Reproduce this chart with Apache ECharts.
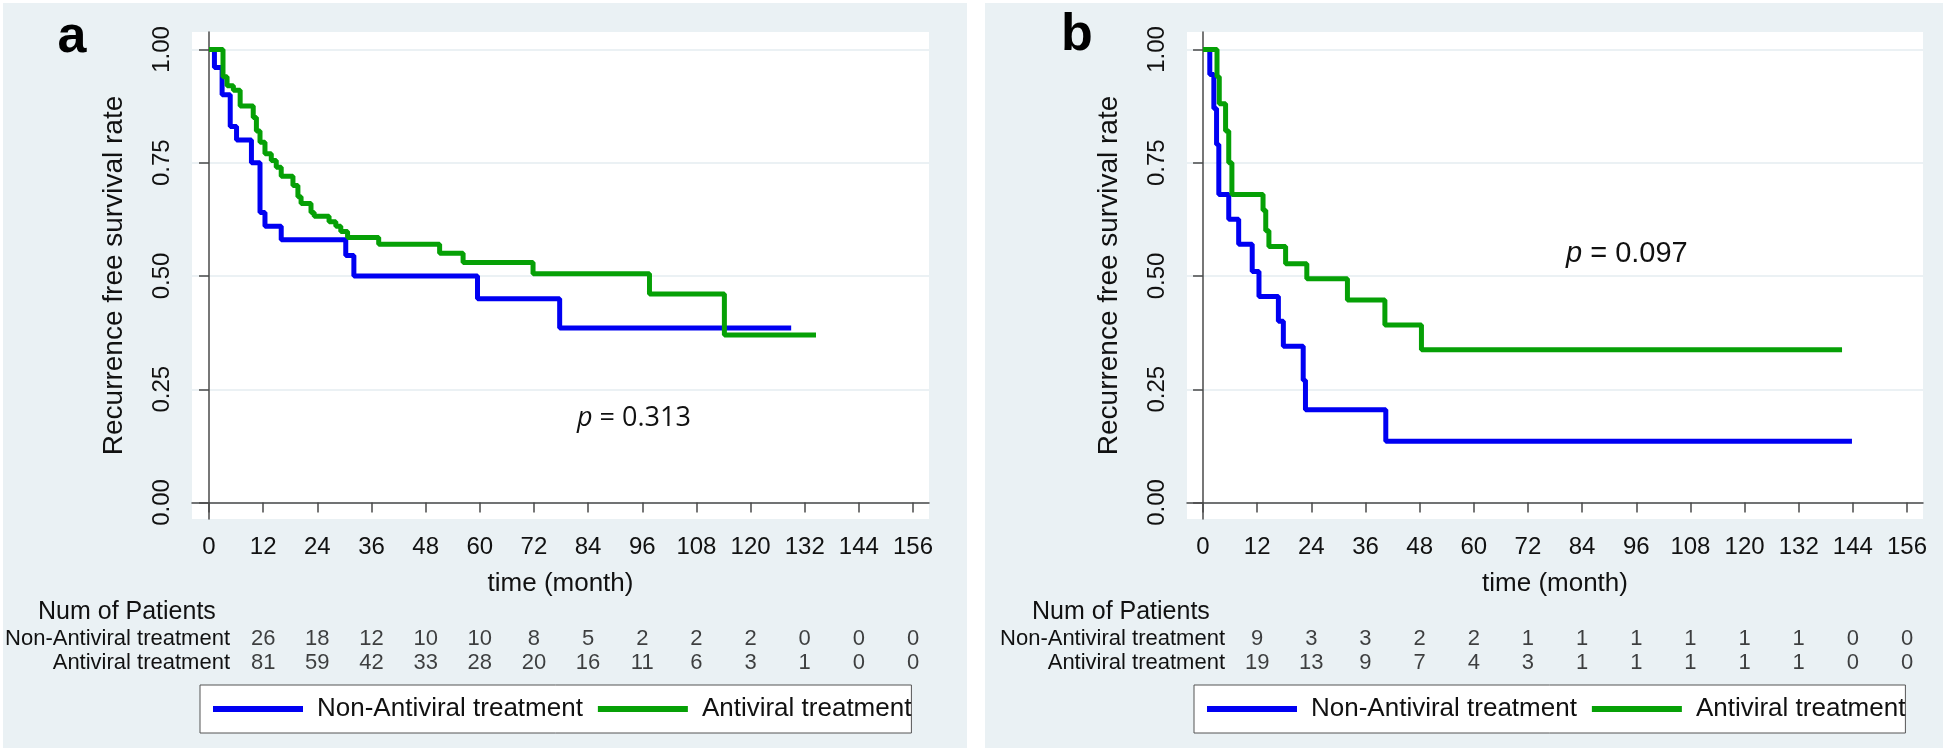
<!DOCTYPE html>
<html>
<head>
<meta charset="utf-8">
<script src="https://cdn.jsdelivr.net/npm/echarts@6/dist/echarts.min.js"></script>
<style>
html, body { margin: 0; padding: 0; background: #fff; }
#chart { width: 1946px; height: 752px; }
</style>
</head>
<body>
<div id="chart"></div>
<script>
// axis ticks
const xTicks = [0, 12, 24, 36, 48, 60, 72, 84, 96, 108, 120, 132, 144, 156];
const yTicks = [0, 0.25, 0.5, 0.75, 1];
const riskTimes = [0, 12, 24, 36, 48, 60, 72, 84, 96, 108, 120, 132, 144];
const groups = ['Non-Antiviral treatment', 'Antiviral treatment'];

// panel a: [month, survival]
const nonAntiviralA = [[0, 1], [1.2, 0.96], [2.9, 0.90], [4.7, 0.83], [6.1, 0.80], [9.4, 0.75],
    [11.3, 0.64], [12.4, 0.61], [16, 0.58], [30.3, 0.545], [32.1, 0.50], [59.5, 0.45],
    [77.7, 0.385], [129, 0.385]];
const antiviralA = [[0, 1], [3.1, 0.94], [4.0, 0.92], [5.4, 0.91], [6.9, 0.875], [9.8, 0.85],
    [10.5, 0.82], [11.3, 0.795], [12.4, 0.77], [13.8, 0.755], [14.9, 0.74], [16, 0.72],
    [18.6, 0.70], [19.7, 0.675], [20.4, 0.66], [22.6, 0.64], [23.3, 0.632], [26.6, 0.62],
    [28.1, 0.61], [29.2, 0.598], [30.7, 0.585], [37.6, 0.57], [51.1, 0.55], [56.3, 0.53],
    [71.8, 0.505], [97.6, 0.46], [114.2, 0.37], [134.5, 0.37]];
const riskNonAntiviralA = [26, 18, 12, 10, 10, 8, 5, 2, 2, 2, 0, 0, 0];
const riskAntiviralA = [81, 59, 42, 33, 28, 20, 16, 11, 6, 3, 1, 0, 0];

// panel b
const nonAntiviralB = [[0, 1], [1.5, 0.945], [2.4, 0.87], [3.0, 0.79], [3.5, 0.68], [5.7, 0.625],
    [7.9, 0.57], [10.9, 0.51], [12.4, 0.455], [16.7, 0.40], [17.8, 0.345], [22.2, 0.27],
    [22.7, 0.205], [40.5, 0.135], [143.8, 0.135]];
const antiviralB = [[0, 1], [3.1, 0.94], [3.6, 0.88], [5.0, 0.82], [5.7, 0.75], [6.4, 0.68],
    [13.3, 0.645], [13.9, 0.60], [14.6, 0.565], [18.3, 0.527], [23, 0.494], [32, 0.447],
    [40.3, 0.392], [48.4, 0.337], [141.6, 0.337]];
const riskNonAntiviralB = [9, 3, 3, 2, 2, 1, 1, 1, 1, 1, 1, 0, 0];
const riskAntiviralB = [19, 13, 9, 7, 4, 3, 1, 1, 1, 1, 1, 0, 0];

const BLUE = '#0000f2';
const GREEN = '#06a006';
const FONT = 'Liberation Sans, Arial, sans-serif';
const AXIS = '#4a4a4a';

let chart = echarts.init(document.getElementById('chart'));

let grids = [], xAxes = [], yAxes = [], series = [], legends = [];

function addPanel(p) {
    let gi = grids.length;
    // plot area
    grids.push({ left: p.left, top: 32, width: p.width, height: 487, show: true,
        backgroundColor: '#fff', borderWidth: 0 });
    // risk table
    grids.push({ left: p.tableLeft, top: 627, width: p.left + p.width - p.tableLeft, height: 48 });

    xAxes.push({
        type: 'value', gridIndex: gi, min: p.xmin, max: 159.54,
        name: 'time (month)', nameLocation: 'middle', nameGap: 52,
        nameTextStyle: { fontFamily: FONT, fontSize: 26, color: '#111' },
        axisLine: { lineStyle: { color: AXIS, width: 1.5 } },
        axisTick: { length: 10, lineStyle: { color: AXIS, width: 1.5 }, customValues: xTicks },
        axisLabel: { customValues: xTicks, fontFamily: FONT, fontSize: 24, color: '#111', margin: 16 },
        splitLine: { show: false }
    });
    xAxes.push({ type: 'value', gridIndex: gi + 1, min: p.tableMin, max: 147.54, show: false });

    yAxes.push({
        type: 'value', gridIndex: gi, min: -0.0364, max: 1.0386,
        name: 'Recurrence free survival rate', nameLocation: 'middle', nameGap: 64,
        nameTextStyle: { fontFamily: FONT, fontSize: 28, color: '#111' },
        axisLine: { show: true, lineStyle: { color: AXIS, width: 1.5 } },
        axisTick: { show: true, length: 10, lineStyle: { color: AXIS, width: 1.5 }, customValues: yTicks },
        axisLabel: { customValues: yTicks, rotate: 90, fontFamily: FONT, fontSize: 24, color: '#111',
            margin: 18, formatter: v => v.toFixed(2) },
        splitLine: { show: true, lineStyle: { color: '#e4ecf1', width: 1.5 } }
    });
    yAxes.push({
        type: 'category', gridIndex: gi + 1, data: [groups[1], groups[0]],
        axisLine: { show: false }, axisTick: { show: false },
        axisLabel: { interval: 0, hideOverlap: false, fontFamily: FONT, fontSize: 22,
            color: '#111', margin: 6 }
    });

    series.push({
        name: groups[0], type: 'line', step: 'end', xAxisIndex: gi, yAxisIndex: gi,
        data: p.blue, showSymbol: false, color: BLUE, lineStyle: { width: 5, color: BLUE }
    });
    series.push({
        name: groups[1], type: 'line', step: 'end', xAxisIndex: gi, yAxisIndex: gi,
        data: p.green, showSymbol: false, color: GREEN, lineStyle: { width: 5, color: GREEN }
    });
    [[groups[0], p.riskBlue], [groups[1], p.riskGreen]].forEach(function (r) {
        series.push({
            type: 'scatter', xAxisIndex: gi + 1, yAxisIndex: gi + 1, symbolSize: 0, silent: true,
            data: riskTimes.map((t, i) => [t, r[0], r[1][i]]),
            label: { show: true, position: 'inside', formatter: d => d.value[2],
                fontFamily: FONT, fontSize: 22, color: '#111' }
        });
    });

    legends.push({
        data: groups, left: p.legendLeft, top: 685, orient: 'horizontal',
        backgroundColor: '#fff', borderColor: '#555', borderWidth: 1,
        padding: [11, 0, 11, 13], itemGap: 15, itemWidth: 90, itemHeight: 6, icon: 'rect',
        selectedMode: false,
        textStyle: { fontFamily: FONT, fontSize: 26, color: '#111', padding: [0, 0, 0, 9] }
    });
}

addPanel({ left: 192, width: 737, xmin: -3.77, tableLeft: 236, tableMin: -6.02,
    blue: nonAntiviralA, green: antiviralA, riskBlue: riskNonAntiviralA, riskGreen: riskAntiviralA,
    legendLeft: 200 });
addPanel({ left: 1187, width: 736, xmin: -3.55, tableLeft: 1231, tableMin: -5.80,
    blue: nonAntiviralB, green: antiviralB, riskBlue: riskNonAntiviralB, riskGreen: riskAntiviralB,
    legendLeft: 1194 });

function txt(x, y, text, font, extra) {
    return Object.assign({ type: 'text', x: x, y: y, z: 100,
        style: Object.assign({ text: text, font: font, fill: '#111', verticalAlign: 'middle' }, extra || {}) });
}

chart.setOption({
    backgroundColor: '#fff',
    animation: false,
    grid: grids,
    xAxis: xAxes,
    yAxis: yAxes,
    legend: legends,
    series: series,
    graphic: [
        { type: 'rect', z: -10, shape: { x: 3, y: 3, width: 964, height: 745 }, style: { fill: '#eaf1f4' } },
        { type: 'rect', z: -10, shape: { x: 985, y: 3, width: 958, height: 745 }, style: { fill: '#eaf1f4' } },
        txt(72, 38, 'a', 'bold 52px Liberation Sans', { align: 'center', fill: '#000' }),
        txt(1077, 36, 'b', 'bold 52px Liberation Sans', { align: 'center', fill: '#000' }),
        txt(38, 612, 'Num of Patients', '25px Liberation Sans'),
        txt(1032, 612, 'Num of Patients', '25px Liberation Sans'),
        txt(577, 418, '{i|p} = 0.313', '27px Open Sans',
            { rich: { i: { fontStyle: 'italic', font: 'italic 27px Open Sans', fill: '#111' } } }),
        txt(1566, 254, '{i|p} = 0.097', '29px Liberation Sans',
            { rich: { i: { fontStyle: 'italic', font: 'italic 29px Liberation Sans', fill: '#111' } } })
    ]
});
</script>
</body>
</html>
